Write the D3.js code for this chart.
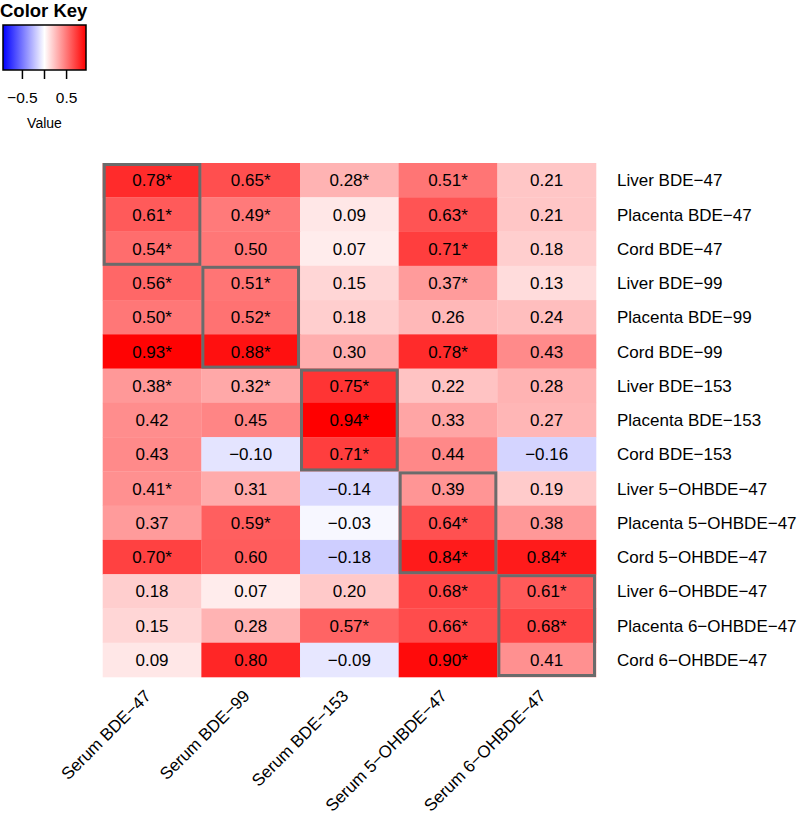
<!DOCTYPE html>
<html>
<head>
<meta charset="utf-8">
<script src="https://cdn.jsdelivr.net/npm/d3@7"></script>
<style>
  body { margin: 0; background: #fff; }
  text { font-family: "Liberation Sans", Arial, sans-serif; fill: #000; }
</style>
</head>
<body>
<div id="chart"></div>
<script>
// row / column labels of the correlation matrix
var rowLabels = ["Liver BDE\u221247", "Placenta BDE\u221247", "Cord BDE\u221247",
                 "Liver BDE\u221299", "Placenta BDE\u221299", "Cord BDE\u221299",
                 "Liver BDE\u2212153", "Placenta BDE\u2212153", "Cord BDE\u2212153",
                 "Liver 5\u2212OHBDE\u221247", "Placenta 5\u2212OHBDE\u221247", "Cord 5\u2212OHBDE\u221247",
                 "Liver 6\u2212OHBDE\u221247", "Placenta 6\u2212OHBDE\u221247", "Cord 6\u2212OHBDE\u221247"];
var colLabels = ["Serum BDE\u221247", "Serum BDE\u221299", "Serum BDE\u2212153",
                 "Serum 5\u2212OHBDE\u221247", "Serum 6\u2212OHBDE\u221247"];

// correlation values, one array per row
var values = [
  [0.78, 0.65, 0.28, 0.51, 0.21],
  [0.61, 0.49, 0.09, 0.63, 0.21],
  [0.54, 0.50, 0.07, 0.71, 0.18],
  [0.56, 0.51, 0.15, 0.37, 0.13],
  [0.50, 0.52, 0.18, 0.26, 0.24],
  [0.93, 0.88, 0.30, 0.78, 0.43],
  [0.38, 0.32, 0.75, 0.22, 0.28],
  [0.42, 0.45, 0.94, 0.33, 0.27],
  [0.43, -0.10, 0.71, 0.44, -0.16],
  [0.41, 0.31, -0.14, 0.39, 0.19],
  [0.37, 0.59, -0.03, 0.64, 0.38],
  [0.70, 0.60, -0.18, 0.84, 0.84],
  [0.18, 0.07, 0.20, 0.68, 0.61],
  [0.15, 0.28, 0.57, 0.66, 0.68],
  [0.09, 0.80, -0.09, 0.90, 0.41]
];
// significance flags (drawn as *)
var signif = [
  [1, 1, 1, 1, 0],
  [1, 1, 0, 1, 0],
  [1, 0, 0, 1, 0],
  [1, 1, 0, 1, 0],
  [1, 1, 0, 0, 0],
  [1, 1, 0, 1, 0],
  [1, 1, 1, 0, 0],
  [0, 0, 1, 0, 0],
  [0, 0, 1, 0, 0],
  [1, 0, 0, 0, 0],
  [0, 1, 0, 1, 0],
  [1, 0, 0, 1, 1],
  [0, 0, 0, 1, 1],
  [0, 0, 1, 1, 1],
  [0, 0, 0, 1, 0]
];
// outlined blocks: column index -> first/last row
var blocks = [
  {col: 0, from: 0, to: 2},
  {col: 1, from: 3, to: 5},
  {col: 2, from: 6, to: 8},
  {col: 3, from: 9, to: 11},
  {col: 4, from: 12, to: 14}
];
var keyTicks = [-0.5, 0, 0.5];
var keyTickLabels = ["\u22120.5", "", "0.5"];

var W = 800, H = 816;
var grid = {left: 102.7, right: 596, top: 163, bottom: 677};
var vmax = 0.94;

var svg = d3.select("#chart").append("svg")
    .attr("width", W).attr("height", H);

var x = d3.scaleBand().domain(d3.range(colLabels.length))
    .range([grid.left, grid.right]);
var y = d3.scaleBand().domain(d3.range(rowLabels.length))
    .range([grid.top, grid.bottom]);
var color = d3.scaleLinear().domain([-vmax, 0, vmax])
    .range(["#0000ff", "#ffffff", "#ff0000"]).clamp(true);
var fmt = d3.format(".2f");

var cells = [];
values.forEach(function(row, i){
    row.forEach(function(v, j){
        cells.push({r: i, c: j, v: v, s: signif[i][j]});
    });
});

svg.append("g").selectAll("rect")
    .data(cells).enter().append("rect")
    .attr("x", function(d){ return x(d.c); })
    .attr("y", function(d){ return y(d.r); })
    .attr("width", x.bandwidth() + 0.3)
    .attr("height", y.bandwidth() + 0.3)
    .attr("fill", function(d){ return color(d.v); });

svg.append("g").selectAll("text")
    .data(cells).enter().append("text")
    .attr("x", function(d){ return x(d.c) + x.bandwidth() / 2; })
    .attr("y", function(d){ return y(d.r) + y.bandwidth() / 2; })
    .attr("dy", "0.36em")
    .attr("text-anchor", "middle")
    .style("font-size", "17px")
    .text(function(d){ return fmt(d.v) + (d.s ? "*" : ""); });

// grey outlines
svg.append("g").selectAll("rect")
    .data(blocks).enter().append("rect")
    .attr("x", function(d){ return x(d.col) + 1.5; })
    .attr("y", function(d){ return y(d.from) + 1.5; })
    .attr("width", x.bandwidth() - 3)
    .attr("height", function(d){ return y(d.to) + y.bandwidth() - y(d.from) - 3; })
    .attr("fill", "none")
    .attr("stroke", "#6b6b6b")
    .attr("stroke-width", 3);

// row labels
svg.append("g").selectAll("text")
    .data(rowLabels).enter().append("text")
    .attr("x", grid.right + 21)
    .attr("y", function(d, i){ return y(i) + y.bandwidth() / 2; })
    .attr("dy", "0.36em")
    .style("font-size", "17px")
    .text(function(d){ return d; });

// column labels, rotated
svg.append("g").selectAll("text")
    .data(colLabels).enter().append("text")
    .attr("transform", function(d, i){
        return "translate(" + (x(i) + x.bandwidth() / 2) + "," + (grid.bottom + 20) + ") rotate(-45)";
    })
    .attr("text-anchor", "end")
    .style("font-size", "17px")
    .text(function(d){ return d; });

// colour key
var key = svg.append("g");
var kx = d3.scaleLinear().domain([-vmax, vmax]).range([3, 86]);
var grad = svg.append("defs").append("linearGradient").attr("id", "keygrad");
grad.selectAll("stop").data([-vmax, 0, vmax]).enter().append("stop")
    .attr("offset", function(d){ return (d + vmax) / (2 * vmax); })
    .attr("stop-color", function(d){ return color(d); });

key.append("text")
    .attr("x", 0).attr("y", 17)
    .style("font-size", "18.5px").style("font-weight", "bold")
    .text("Color Key");
key.append("rect")
    .attr("x", kx(-vmax)).attr("y", 25)
    .attr("width", kx(vmax) - kx(-vmax)).attr("height", 45)
    .attr("fill", "url(#keygrad)")
    .attr("stroke", "#000").attr("stroke-width", 1.5);
key.selectAll("line.tick")
    .data(keyTicks).enter().append("line")
    .attr("class", "tick")
    .attr("x1", function(d){ return kx(d); }).attr("x2", function(d){ return kx(d); })
    .attr("y1", 70).attr("y2", 79)
    .attr("stroke", "#000").attr("stroke-width", 1.5);
key.selectAll("text.ticklab")
    .data(keyTicks).enter().append("text")
    .attr("class", "ticklab")
    .attr("x", function(d){ return kx(d); }).attr("y", 103)
    .attr("text-anchor", "middle")
    .style("font-size", "15.5px")
    .text(function(d, i){ return keyTickLabels[i]; });
key.append("text")
    .attr("x", kx(0)).attr("y", 128)
    .attr("text-anchor", "middle")
    .style("font-size", "14px")
    .text("Value");
</script>
</body>
</html>
